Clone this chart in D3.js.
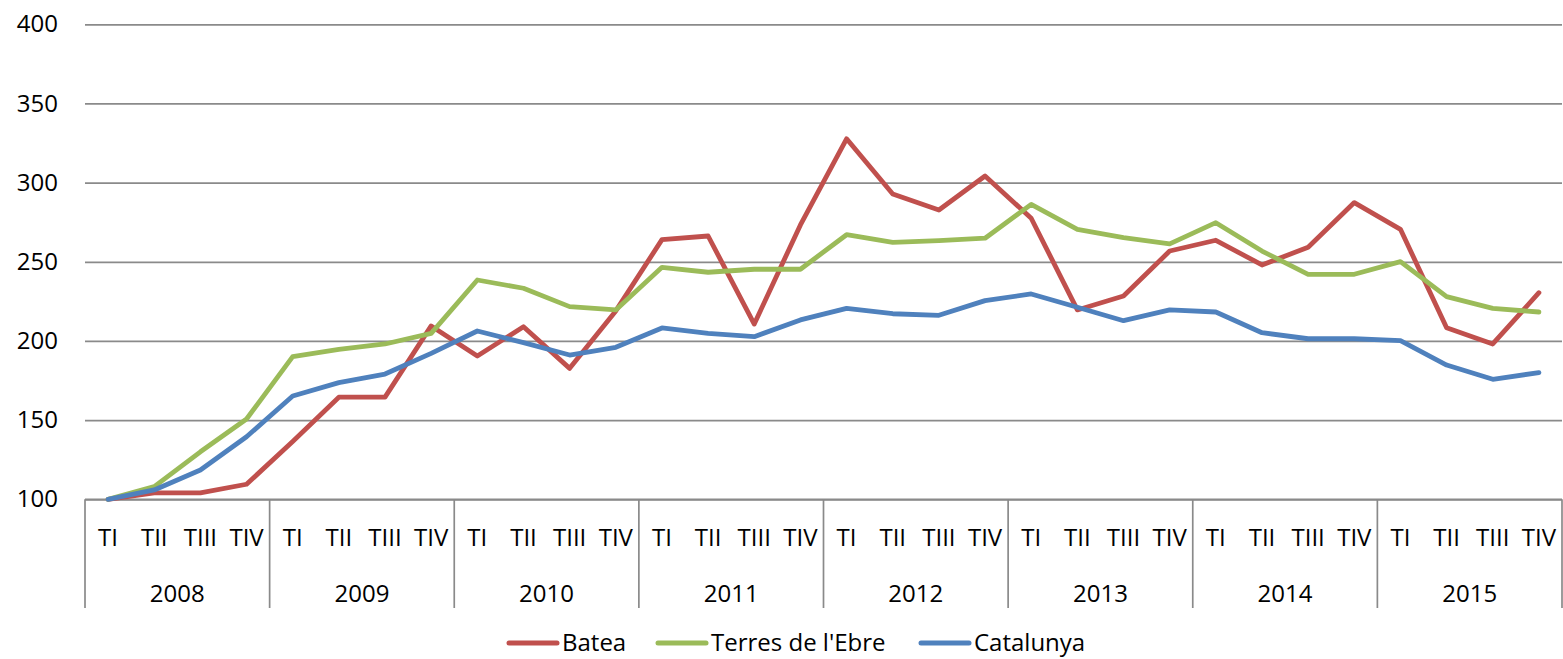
<!DOCTYPE html>
<html><head><meta charset="utf-8">
<script src="https://cdn.jsdelivr.net/npm/d3@7"></script>
<style>body{margin:0;background:#fff}svg{display:block}text{font-family:"Open Sans",sans-serif;fill:#000}</style>
</head><body><svg id="c" width="1563" height="659"></svg>
<script>
const years = ["2008","2009","2010","2011","2012","2013","2014","2015"];
const quarters = ["TI","TII","TIII","TIV"];
const yTicks = [100,150,200,250,300,350,400];
const seriesNames = ["Batea","Terres de l'Ebre","Catalunya"];
const seriesColors = ["#C0504D","#9BBB59","#4F81BD"];
const batea = [100,104,104,109.5, 136.5,164.5,164.5,209.5, 190.5,209,182.7,219, 264,266.3,210.7,273.3, 327.7,292.8,282.7,304.2, 277.5,219.6,228.4,256.8, 263.6,248,259.2,287.4, 270.5,208.4,198.1,230.5];
const terres = [100,108,130,150.7, 190.1,194.7,198.1,204.8, 238.5,233.3,221.7,219.6, 246.5,243.4,245.3,245.3, 267.1,262.3,263.4,264.9, 286.3,270.5,265.2,261.3, 274.7,256.8,242.1,242.1, 250.1,228,220.6,218.3];
const catalunya = [100,105.9,118.5,139.5, 165.2,173.7,179.1,192.2, 206.3,199,191.1,196, 208.2,204.8,202.7,213.3, 220.6,217.2,216.2,225.5, 229.7,221.3,212.8,219.6, 218.3,205.2,201.4,201.4, 200.2,184.8,175.8,180];
const seriesData = [batea, terres, catalunya];

(function(){
const cats = [];
years.forEach(yr => quarters.forEach(q => cats.push(yr + "-" + q)));

const svg = d3.select("#c");
const pL = 85, pR = 1562, pT = 24.3, pB = 499.3;
const x = d3.scaleBand().domain(cats).range([pL, pR]);
const y = d3.scaleLinear().domain([100, 400]).range([pB, pT]);
const gridColor = "#8a8a8a";

const yAxis = d3.axisLeft(y).tickValues(yTicks).tickSize(-(pR - pL)).tickPadding(27).tickFormat(d3.format("d"));
const gy = svg.append("g").attr("transform", `translate(${pL},0)`).call(yAxis);
gy.select(".domain").remove();
gy.selectAll(".tick line").attr("stroke", gridColor).attr("stroke-width", 1.7);
gy.selectAll(".tick text").attr("font-size", 24).attr("font-family", "Open Sans").attr("fill", "#000").attr("x", -27);

const gx = svg.append("g");
gx.append("line").attr("x1", pL).attr("x2", pR).attr("y1", pB).attr("y2", pB).attr("stroke", gridColor).attr("stroke-width", 1.7);
const yearBounds = years.map(yr => x(yr + "-TI")).concat([pR]);
gx.selectAll("line.sep").data(yearBounds).join("line").attr("class", "sep")
  .attr("x1", d => d).attr("x2", d => d).attr("y1", pB).attr("y2", 608)
  .attr("stroke", gridColor).attr("stroke-width", 1.7);
gx.selectAll("text.q").data(cats).join("text").attr("class", "q")
  .attr("x", d => x(d) + x.bandwidth() / 2).attr("y", 546).attr("text-anchor", "middle")
  .attr("font-size", 24).text(d => d.split("-")[1]);
gx.selectAll("text.yr").data(years).join("text").attr("class", "yr")
  .attr("x", d => x(d + "-TI") + 2 * x.bandwidth()).attr("y", 602).attr("text-anchor", "middle")
  .attr("font-size", 24).text(d => d);

const line = d3.line().x((d, i) => x(cats[i]) + x.bandwidth() / 2).y(d => y(d));
seriesData.forEach((s, k) => {
  svg.append("path").datum(s).attr("d", line).attr("fill", "none")
    .attr("stroke", seriesColors[k]).attr("stroke-width", 4.8)
    .attr("stroke-linejoin", "round").attr("stroke-linecap", "round");
});

const legX = [509, 658, 921];
const lg = svg.append("g");
seriesNames.forEach((n, k) => {
  lg.append("line").attr("x1", legX[k]).attr("x2", legX[k] + 48).attr("y1", 643).attr("y2", 643)
    .attr("stroke", seriesColors[k]).attr("stroke-width", 5).attr("stroke-linecap", "round");
  lg.append("text").attr("x", legX[k] + 53).attr("y", 651).attr("font-size", 24).text(n);
});
})();
</script></body></html>
